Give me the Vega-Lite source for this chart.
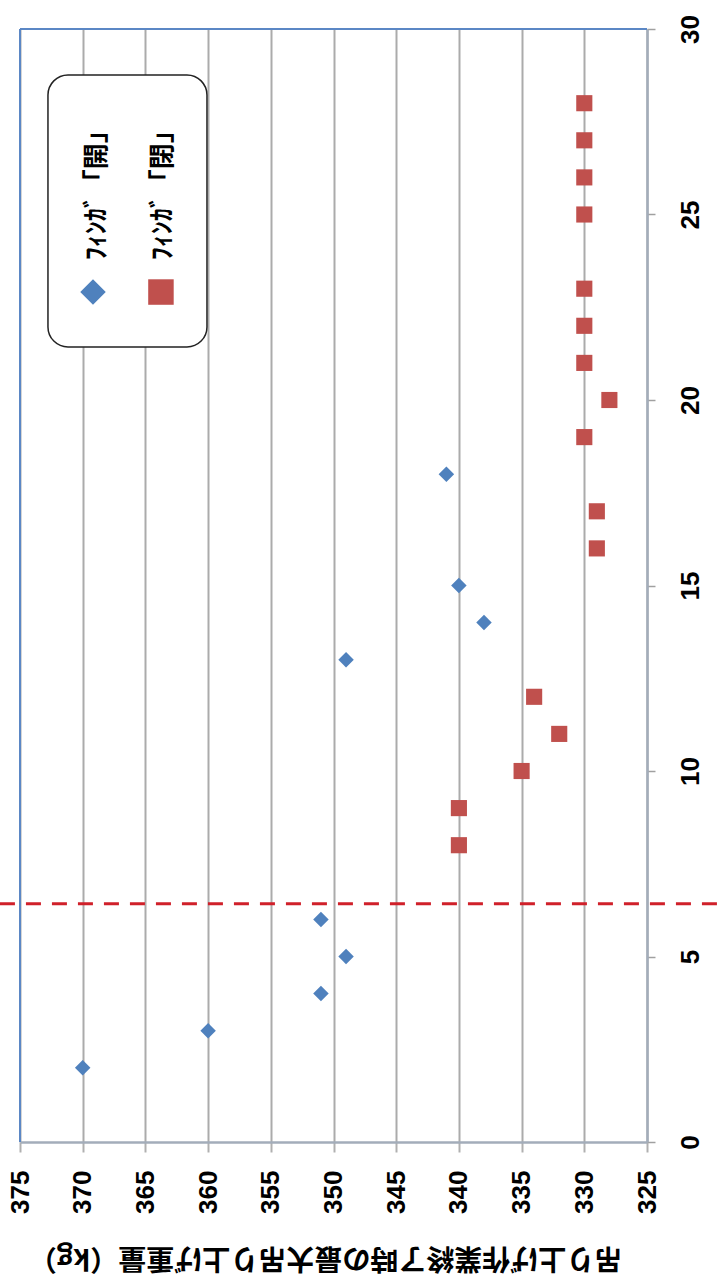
{
  "$schema": "https://vega.github.io/schema/vega-lite/v6.json",
  "width": 627,
  "height": 1113,
  "autosize": {"type": "none"},
  "padding": {"left": 20, "top": 29, "right": 76, "bottom": 143},
  "background": "white",
  "config": {"view": {"stroke": null}},
  "encoding": {
    "x": {
      "field": "w", "type": "quantitative",
      "scale": {"domain": [325, 375], "reverse": true, "nice": false, "zero": false},
      "axis": {
        "orient": "bottom",
        "values": [325, 330, 335, 340, 345, 350, 355, 360, 365, 370, 375],
        "grid": true, "gridColor": "#ababab", "gridWidth": 2,
        "domainColor": "#a3adba", "domainWidth": 2.5,
        "tickColor": "#b0b0b0", "tickWidth": 2, "tickSize": 10,
        "labelAngle": -90, "labelAlign": "right", "labelBaseline": "middle",
        "labelPadding": 18, "labelFont": "Liberation Sans", "labelFontSize": 26,
        "labelFontWeight": "bold", "labelColor": "#000000",
        "title": "吊り上げ作業終了時の最大吊り上げ重量（kg）",
        "titleAngle": 180, "titleFont": "Noto Sans CJK JP", "titleFontSize": 28,
        "titleFontWeight": "bold", "titleColor": "#000000",
        "titleBaseline": "bottom", "titleAlign": "center", "titleY": 100, "titleX": 305
      }
    },
    "y": {
      "field": "n", "type": "quantitative",
      "scale": {"domain": [0, 30], "nice": false, "zero": false},
      "axis": {
        "orient": "right",
        "values": [0, 5, 10, 15, 20, 25, 30],
        "grid": false,
        "domainColor": "#a3adba", "domainWidth": 2.5,
        "tickColor": "#a0a0a0", "tickWidth": 1.5, "tickSize": 8,
        "labelAngle": -90, "labelAlign": "center", "labelBaseline": "top",
        "labelPadding": 22, "labelFont": "Liberation Sans", "labelFontSize": 26,
        "labelFontWeight": "bold", "labelColor": "#000000",
        "title": null
      }
    }
  },
  "layer": [
    {
      "data": {"values": [{"w": 372.77, "w2": 360.09, "n": 28.76, "n2": 21.43}]},
      "mark": {"type": "rect", "fill": "white", "stroke": "#222222", "strokeWidth": 1.5, "cornerRadius": 20},
      "encoding": {"x2": {"field": "w2"}, "y2": {"field": "n2"}}
    },
    {
      "data": {"values": [{"w": 375, "w2": 325, "n": 30}]},
      "mark": {"type": "rule", "color": "#5b87c5", "strokeWidth": 2},
      "encoding": {"x2": {"field": "w2"}}
    },
    {
      "data": {"values": [{"w": 375, "n": 0, "n2": 30}]},
      "mark": {"type": "rule", "color": "#5b87c5", "strokeWidth": 2},
      "encoding": {"y2": {"field": "n2"}}
    },
    {
      "data": {"values": [
        {"n": 2, "w": 370, "s": "開"},
        {"n": 3, "w": 360, "s": "開"},
        {"n": 4, "w": 351, "s": "開"},
        {"n": 5, "w": 349, "s": "開"},
        {"n": 6, "w": 351, "s": "開"},
        {"n": 13, "w": 349, "s": "開"},
        {"n": 14, "w": 338, "s": "開"},
        {"n": 15, "w": 340, "s": "開"},
        {"n": 18, "w": 341, "s": "開"}
      ]},
      "mark": {"type": "point", "shape": "diamond", "filled": true, "opacity": 1, "size": 240, "color": "#4f81bd"}
    },
    {
      "data": {"values": [
        {"n": 8, "w": 340, "s": "閉"},
        {"n": 9, "w": 340, "s": "閉"},
        {"n": 10, "w": 335, "s": "閉"},
        {"n": 11, "w": 332, "s": "閉"},
        {"n": 12, "w": 334, "s": "閉"},
        {"n": 16, "w": 329, "s": "閉"},
        {"n": 17, "w": 329, "s": "閉"},
        {"n": 19, "w": 330, "s": "閉"},
        {"n": 20, "w": 328, "s": "閉"},
        {"n": 21, "w": 330, "s": "閉"},
        {"n": 22, "w": 330, "s": "閉"},
        {"n": 23, "w": 330, "s": "閉"},
        {"n": 25, "w": 330, "s": "閉"},
        {"n": 26, "w": 330, "s": "閉"},
        {"n": 27, "w": 330, "s": "閉"},
        {"n": 28, "w": 330, "s": "閉"}
      ]},
      "mark": {"type": "point", "shape": "square", "filled": true, "opacity": 1, "size": 260, "color": "#c0504d"}
    },
    {
      "data": {"values": [{"w": 369.18, "n": 22.91}]},
      "mark": {"type": "point", "shape": "diamond", "filled": true, "opacity": 1, "size": 650, "color": "#4f81bd"}
    },
    {
      "data": {"values": [{"w": 363.76, "n": 22.91}]},
      "mark": {"type": "point", "shape": "square", "filled": true, "opacity": 1, "size": 650, "color": "#c0504d"}
    },
    {
      "data": {"values": [
        {"w": 368.86, "n": 23.77, "label": "ﾌｨﾝｶﾞ「開」"},
        {"w": 363.6, "n": 23.77, "label": "ﾌｨﾝｶﾞ「閉」"}
      ]},
      "mark": {"type": "text", "angle": -90, "align": "left", "baseline": "middle", "font": "Noto Sans CJK JP", "fontSize": 26, "fontWeight": "bold", "color": "#000000"},
      "encoding": {"text": {"field": "label"}}
    },
    {
      "data": {"values": [{"w": 376.6, "w2": 318.9, "n": 6.42}]},
      "mark": {"type": "rule", "color": "#d0202a", "strokeWidth": 3, "strokeDash": [15, 11], "clip": false},
      "encoding": {"x2": {"field": "w2"}}
    }
  ]
}
